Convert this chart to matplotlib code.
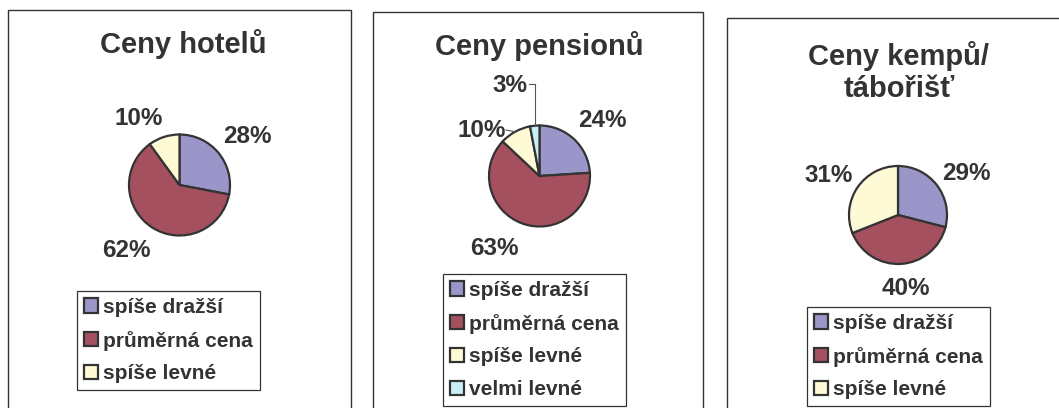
import matplotlib
matplotlib.use('Agg')
import matplotlib.pyplot as plt
from matplotlib.patches import Rectangle, Patch
import numpy as np

W, H, DPI = 1059, 408, 100

# ---------------- data ----------------
hotel_labels = ['spíše dražší', 'průměrná cena', 'spíše levné']
hotel_values = [28, 62, 10]
pension_labels = ['spíše dražší', 'průměrná cena', 'spíše levné', 'velmi levné']
pension_values = [24, 63, 10, 3]
camp_labels = ['spíše dražší', 'průměrná cena', 'spíše levné']
camp_values = [29, 40, 31]
titles = ['Ceny hotelů', 'Ceny pensionů', 'Ceny kempů/\ntábořišť']

# ---------------- style ----------------
COLORS = ['#9b96c9', '#a5505f', '#fffad6', '#c8eef6']
EDGE = '#333333'
TEXT = '#333333'
FONT = 'Liberation Sans'

plt.rcParams['font.family'] = [FONT, 'DejaVu Sans']

fig = plt.figure(figsize=(W / DPI, H / DPI), dpi=DPI)
fig.patch.set_facecolor('white')


def fx(x):
    return x / W


def fy(y):
    return 1 - y / H


# layout per panel (pixel units)
layout = [
    dict(frame=(8, 10, 351), center=(179.5, 185), r=50.5,
         title_x=183, title_y=[53], label_pos=[(247.5, 143), (126, 257), (138.5, 125)],
         legend=(77, 291)),
    dict(frame=(373, 12, 703), center=(539.5, 176), r=50.5,
         title_x=539, title_y=[55], label_pos=[(602.5, 127), (494.5, 255), (482, 137), (509.5, 92)],
         legend=(443, 274)),
    dict(frame=(727, 18, 1075), center=(898, 215), r=49,
         title_x=899, title_y=[65, 97], label_pos=[(966, 180), (906, 295), (828.5, 182)],
         legend=(807, 307)),
]

datasets = [(hotel_labels, hotel_values), (pension_labels, pension_values), (camp_labels, camp_values)]

for i, ((labels, values), lay) in enumerate(zip(datasets, layout)):
    x0, y0, x1 = lay['frame']
    fig.add_artist(Rectangle((fx(x0), fy(H + 20)), fx(x1) - fx(x0), fy(y0) - fy(H + 20),
                             transform=fig.transFigure, facecolor='none', edgecolor=EDGE,
                             linewidth=1.0, zorder=0))

    cx, cy = lay['center']
    r = lay['r']
    ax = fig.add_axes([fx(cx - r), fy(cy + r), 2 * r / W, 2 * r / H])
    cols = COLORS[:len(values)]
    wedges, _ = ax.pie(values, colors=cols, startangle=90, counterclock=False, radius=1,
                       wedgeprops=dict(edgecolor=EDGE, linewidth=1.6))
    for w in wedges:
        w.set_clip_on(False)
    ax.set_xlim(-1, 1)
    ax.set_ylim(-1, 1)
    ax.axis('off')

    # title
    tlines = titles[i].split('\n')
    for line, ty in zip(tlines, lay['title_y']):
        fig.text(fx(lay['title_x']), fy(ty), line, ha='center', va='baseline',
                 fontsize=21, fontweight='bold', color=TEXT)

    # percentage labels
    total = sum(values)
    for v, (lx, ly) in zip(values, lay['label_pos']):
        fig.text(fx(lx), fy(ly), f'{round(100 * v / total)}%', ha='center', va='baseline',
                 fontsize=17.5, fontweight='bold', color=TEXT)

    # leader lines for small slices in the pension chart
    if i == 1:
        for w, (lx, ly), kind in zip(wedges[2:], lay['label_pos'][2:], ['short', 'elbow']):
            th = np.deg2rad((w.theta1 + w.theta2) / 2)
            ex, ey = np.cos(th), np.sin(th)
            if kind == 'elbow':
                sx = (lx + 19 - cx) / r
                sy = (cy - (ly - 8)) / r
                ax.plot([sx, ex, ex], [sy, sy, ey], color='#555555', lw=0.8, clip_on=False)
            else:
                sx = (lx + 24 - cx) / r
                sy = (cy - (ly - 7)) / r
                ax.plot([sx, ex], [sy, ey], color='#555555', lw=0.8, clip_on=False)

    # legend
    handles = [Patch(facecolor=c, edgecolor=EDGE, linewidth=1.6) for c in cols]
    lx0, ly0 = lay['legend']
    leg = fig.legend(handles, labels, loc='upper left', bbox_to_anchor=(fx(lx0), fy(ly0)),
                     bbox_transform=fig.transFigure, borderaxespad=0, frameon=True,
                     fancybox=False, framealpha=1, edgecolor=EDGE,
                     prop=dict(family=FONT, weight='bold', size=15), labelcolor=TEXT,
                     handlelength=0.68, handleheight=0.68, handletextpad=0.25,
                     labelspacing=0.66, borderpad=0.33)
    leg.get_frame().set_linewidth(0.9)

fig.savefig('out.png', dpi=DPI, facecolor='white')
